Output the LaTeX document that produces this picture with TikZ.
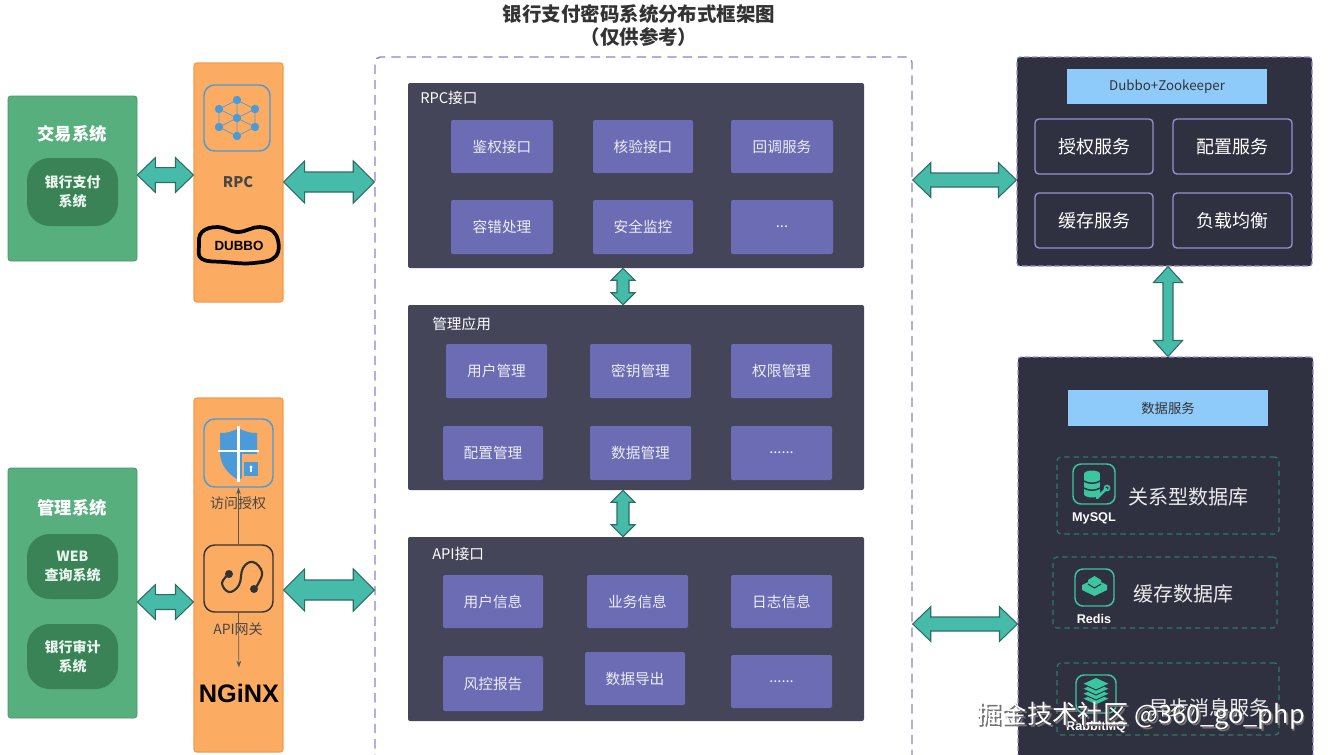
\documentclass[tikz,border=0pt]{standalone}
\usepackage{fontspec}
\setmainfont{Noto Sans CJK SC}
\newfontfamily\latb{Liberation Sans}
\usetikzlibrary{calc,arrows.meta}
\definecolor{grn}{HTML}{56AF7D}
\definecolor{grnd}{HTML}{3A8356}
\definecolor{org}{HTML}{FCAC62}
\definecolor{orgd}{HTML}{F39C4C}
\definecolor{pnl}{HTML}{45455A}
\definecolor{cellc}{HTML}{6B6CB4}
\definecolor{rpnl}{HTML}{2F3040}
\definecolor{lav}{HTML}{9A90D2}
\definecolor{lavd}{HTML}{8C84CC}
\definecolor{hdr}{HTML}{8FCBFA}
\definecolor{arrf}{HTML}{46BBAA}
\definecolor{arro}{HTML}{2E6E62}
\definecolor{tealc}{HTML}{3CC6A0}
\definecolor{tealdash}{HTML}{2E7A68}
\definecolor{ttl}{HTML}{333333}
\definecolor{iconb}{HTML}{4A9BD8}
\def\u{0.75pt}
\newcommand\rbox[7][]{\node[#1, minimum width={(#5-#3)*\u}, minimum height={(#6-#4)*\u}] (#2) at ({(#3+#5)/2},{(#4+#6)/2}) {#7};}
% horizontal double arrow: #1 left point, #2 right point, #3 shaft half, #4 head half, #5 head length
\newcommand\harr[5]{\draw[dar] let \p1=(#1), \p2=(#2) in
 (\x1,\y1) -- (\x1+#5,\y1+#4) -- (\x1+#5,\y1+#3) -- (\x2-#5,\y1+#3) -- (\x2-#5,\y1+#4) -- (\x2,\y1)
 -- (\x2-#5,\y1-#4) -- (\x2-#5,\y1-#3) -- (\x1+#5,\y1-#3) -- (\x1+#5,\y1-#4) -- cycle;}
% vertical double arrow: #1 top point, #2 bottom point
\newcommand\varr[5]{\draw[dar] let \p1=(#1), \p2=(#2) in
 (\x1,\y1) -- (\x1+#4,\y1-#5) -- (\x1+#3,\y1-#5) -- (\x1+#3,\y2+#5) -- (\x1+#4,\y2+#5) -- (\x1,\y2)
 -- (\x1-#4,\y2+#5) -- (\x1-#3,\y2+#5) -- (\x1-#3,\y1-#5) -- (\x1-#4,\y1-#5) -- cycle;}
\tikzset{
 dar/.style={fill=arrf, draw=arro, line width=0.8pt, line join=miter},
 gbox/.style={fill=grn, draw=grn!85!black, line width=0.5pt, rounded corners=2pt, inner sep=0pt},
 gtitle/.style={text=white, font=\bfseries\fontsize{13}{15}\selectfont, inner sep=0pt},
 pill/.style={fill=grnd, rounded corners=17pt, inner sep=0pt, align=center, text=white!88!grn, font=\bfseries\fontsize{10.5}{14.5}\selectfont},
 obox/.style={fill=org, draw=orgd, line width=0.8pt, rounded corners=2pt, inner sep=0pt},
 icbox/.style={draw=iconb, line width=1.1pt, rounded corners=8pt, inner sep=0pt},
 gwbox/.style={draw=ttl, line width=1.1pt, rounded corners=8pt, inner sep=0pt},
 olabel/.style={text=ttl!90, font=\fontsize{10.5}{12}\selectfont, inner sep=0pt},
 outerbox/.style={draw=lavd, dashed, dash pattern=on 7pt off 4.5pt, line width=1.1pt, rounded corners=4pt, inner sep=0pt},
 panel/.style={fill=pnl, rounded corners=1.5pt, inner sep=0pt},
 ptitle/.style={text=white, font=\fontsize{11}{13}\selectfont, inner sep=0pt, anchor=west},
 cell/.style={fill=cellc, rounded corners=1.5pt, inner sep=0pt, text=white!88!cellc, font=\fontsize{11}{13}\selectfont},
 rpanel/.style={fill=rpnl, draw=lav, dashed, dash pattern=on 4pt off 2pt, line width=0.8pt, rounded corners=2pt, inner sep=0pt},
 hdrbox/.style={fill=hdr, inner sep=0pt, text=ttl, font=\fontsize{10}{12}\selectfont},
 rcell/.style={draw=lav, line width=1pt, rounded corners=3pt, inner sep=0pt, text=white, font=\fontsize{13.5}{15}\selectfont},
 subbox/.style={draw=tealdash, dashed, dash pattern=on 4pt off 3pt, line width=0.9pt, rounded corners=3pt, inner sep=0pt},
 dbicon/.style={draw=tealc, line width=1.1pt, rounded corners=6pt, inner sep=0pt},
 dblabel/.style={text=white, font=\latb\bfseries\fontsize{9.5}{11}\selectfont, inner sep=0pt},
 dbtext/.style={text=white!92!black, font=\fontsize{15}{17}\selectfont, inner sep=0pt, anchor=west},
 ttext/.style={text=ttl, font=\bfseries\fontsize{14.6}{16}\selectfont, inner sep=0pt},
 wmark/.style={font=\fontsize{19}{21}\selectfont, inner sep=0pt, anchor=east},
}
\begin{document}
\begin{tikzpicture}[x=0.75pt,y=-0.75pt]
\useasboundingbox (0,0) rectangle (1328,754);
\fill[white] (0,0) rectangle (1328,754);
% title
\node[ttext] (title) at (639,14) {银行支付密码系统分布式框架图};
\node[ttext] (title2) at (639,37) {（仅供参考）};
% outer dashed box
\rbox[outerbox]{outer}{375}{57}{912}{790}{}
% left green boxes
\rbox[gbox]{g1}{8}{96}{137}{261}{}
\node[gtitle] (g1t) at (72,134) {交易系统};
\rbox[pill]{g1p}{27}{158}{118}{226}{银行支付\\系统}
\rbox[gbox]{g2}{8}{468}{137}{718}{}
\node[gtitle] (g2t) at (72,508) {管理系统};
\rbox[pill]{g2a}{27}{534}{118}{599}{WEB\\查询系统}
\rbox[pill]{g2b}{27}{624}{118}{689}{银行审计\\系统}
% orange RPC column
\rbox[obox]{rpc}{194}{63}{283}{302}{}
\rbox[icbox]{rpci}{204}{85}{270}{151}{}
\begin{scope}[iconb]
 \draw[line width=0.5pt] (237,100) -- (219,109) -- (219,127) -- (237,136) -- (255,127) -- (255,109) -- cycle;
 \draw[line width=0.5pt] (237,118) -- (237,100) (237,118) -- (219,127) (237,118) -- (255,127)
   (237,118) -- (219,109) (237,118) -- (255,109) (237,118) -- (237,136);
 \foreach \p in {(237,100),(219,109),(255,109),(219,127),(255,127),(237,136),(237,118)} \fill \p circle (4.2);
\end{scope}
\node[olabel, font=\bfseries\fontsize{11}{13}\selectfont] (rpct) at (238,182) {RPC};
\draw[line width=2.8pt, black] plot[smooth cycle, tension=0.7] coordinates {(202,232) (218,227) (238,232) (260,227) (276,235) (276,256) (254,263) (224,262) (202,259) (199,246)};
\node[inner sep=0pt, font=\latb\bfseries\fontsize{10}{11}\selectfont] (dubbo) at (239,246) {DUBBO};
% orange API column
\rbox[obox]{api}{194}{398}{283}{752}{}
\rbox[icbox]{shi}{204}{419}{273}{487}{}
\fill[iconb] (220,433) .. controls (228,433) and (234,431) .. (238.5,428) .. controls (243,431) and (249,433) .. (257,433) -- (257,452) .. controls (257,465) and (249,474) .. (238.5,480) .. controls (228,474) and (220,465) .. (220,452) -- cycle;
\draw[white, line width=2.2pt] (238.5,426) -- (238.5,482) (218,451) -- (259,451);
\fill[org] (242,454) rectangle (262,480);
\draw[iconb, line width=1.3pt] (246.5,462) arc[start angle=180, end angle=0, x radius=4.5, y radius=5];
\fill[iconb] (244,462) rectangle (258,476);
\fill[white] (251,467) circle (1.6);
\draw[white, line width=0.9pt] (251,467) -- (251,472);
\node[olabel] (sht) at (238,503) {访问授权};
\rbox[gwbox]{gw}{204}{545}{273}{612}{}
\draw[ttl, line width=1.6pt] plot[smooth, tension=0.7] coordinates {(229,574) (222,583) (229,592) (239,585) (243,568) (253,562) (262,572) (258,584) (254,589)};
\fill[ttl] (229,574) circle (4);
\fill[ttl] (254,589) circle (4);
\node[olabel] (gwt) at (238,629) {API网关};
\node[inner sep=0pt, font=\latb\bfseries\fontsize{19}{21}\selectfont] (nginx) at (239,693) {NGiNX};
\draw[gray!70!black, line width=0.5pt, -{Stealth[length=5pt,width=3.5pt]}] (gw.north) -- (shi.south);
\draw[gray!70!black, line width=0.5pt, -{Stealth[length=5pt,width=3.5pt]}, shorten >=12pt] (gw.south) -- (nginx.north);
% central panels
\rbox[panel]{rpcp}{408}{83}{864}{268}{}
\node[ptitle] (rpcpt) at (420,98) {RPC接口};
\rbox[cell]{c11}{451}{120}{553}{173}{鉴权接口}
\rbox[cell]{c12}{593}{120}{693}{173}{核验接口}
\rbox[cell]{c13}{731}{120}{833}{173}{回调服务}
\rbox[cell]{c21}{451}{200}{553}{254}{容错处理}
\rbox[cell]{c22}{593}{200}{693}{254}{安全监控}
\rbox[cell]{c23}{731}{200}{833}{254}{...}
\rbox[panel]{mgp}{408}{305}{864}{490}{}
\node[ptitle] (mgpt) at (432,324) {管理应用};
\rbox[cell]{m11}{446}{344}{547}{398}{用户管理}
\rbox[cell]{m12}{590}{344}{691}{398}{密钥管理}
\rbox[cell]{m13}{731}{344}{832}{398}{权限管理}
\rbox[cell]{m21}{443}{426}{543}{480}{配置管理}
\rbox[cell]{m22}{590}{426}{691}{480}{数据管理}
\rbox[cell]{m23}{731}{426}{832}{480}{......}
\rbox[panel]{apip}{408}{537}{864}{721}{}
\node[ptitle] (apipt) at (432,554) {API接口};
\rbox[cell]{a11}{443}{575}{543}{628}{用户信息}
\rbox[cell]{a12}{587}{575}{688}{628}{业务信息}
\rbox[cell]{a13}{731}{575}{832}{628}{日志信息}
\rbox[cell]{a21}{443}{656}{543}{711}{风控报告}
\rbox[cell]{a22}{585}{652}{685}{705}{数据导出}
\rbox[cell]{a23}{731}{655}{832}{708}{......}
% right panels
\rbox[rpanel]{dz}{1017}{57}{1312}{266}{}
\rbox[hdrbox]{dzh}{1067}{69}{1267}{104}{Dubbo+Zookeeper}
\rbox[rcell]{r11}{1035}{119}{1153}{174}{授权服务}
\rbox[rcell]{r12}{1173}{119}{1292}{174}{配置服务}
\rbox[rcell]{r21}{1035}{193}{1153}{248}{缓存服务}
\rbox[rcell]{r22}{1173}{193}{1292}{248}{负载均衡}
\rbox[rpanel]{ds}{1018}{357}{1313}{790}{}
\rbox[hdrbox]{dsh}{1068}{390}{1268}{426}{数据服务}
\rbox[subbox]{s1}{1057}{457}{1279}{534}{}
\rbox[subbox]{s2}{1053}{557}{1277}{628}{}
\rbox[subbox]{s3}{1057}{663}{1279}{735}{}
% MySQL icon
\rbox[dbicon]{i1}{1073}{464}{1115}{504}{}
\fill[tealc] (1084,474) rectangle (1100,494);
\fill[tealc] (1092,474) ellipse (8 and 3.5);
\fill[tealc] (1092,494) ellipse (8 and 3.5);
\draw[rpnl, line width=1.1pt] (1084,481) .. controls (1088,484) and (1096,484) .. (1100,481)
  (1084,488) .. controls (1088,491) and (1096,491) .. (1100,488);
\draw[tealc, line width=2pt, line cap=round] (1097,498) -- (1106,489);
\draw[tealc, line width=1.2pt] (1107,488) circle (2.5);
\node[dblabel] (l1) at (1094,518) {MySQL};
\node[dbtext] (t1) at (1128,497) {关系型数据库};
% Redis icon
\rbox[dbicon]{i2}{1075}{569}{1114}{606}{}
\fill[tealc] (1082,585) -- (1094.5,579) -- (1107,585) -- (1107,590) -- (1094.5,596) -- (1082,590) -- cycle;
\fill[tealc] (1088,580) -- (1094.5,576) -- (1101,580) -- (1101,584) -- (1094.5,588) -- (1088,584) -- cycle;
\draw[rpnl, line width=0.8pt] (1088,584) -- (1094.5,588) -- (1101,584);
\node[dblabel] (l2) at (1094,619) {Redis};
\node[dbtext] (t2) at (1133,594) {缓存数据库};
% RabbitMQ icon
\rbox[dbicon]{i3}{1076}{675}{1116}{713}{}
\foreach \k in {0,1,2,3} {
 \fill[tealc] (1083,{699-5*\k}) -- (1096,{693-5*\k}) -- (1109,{699-5*\k}) -- (1096,{705-5*\k}) -- cycle;
 \draw[rpnl, line width=0.7pt] (1083,{699-5*\k}) -- (1096,{705-5*\k}) -- (1109,{699-5*\k});
}
\node[dblabel] (l3) at (1096,727) {RabbitMQ};
\node[dbtext] (t3) at (1149,708) {异步消息服务};
% arrows
\coordinate (ay1) at (0,175);
\coordinate (ay2) at (0,182);
\coordinate (ay3) at (0,602);
\coordinate (ay5) at (0,590);
\coordinate (ay6) at (0,180);
\coordinate (ay4) at (0,624);
\coordinate (ax1) at (623,0);
\coordinate (ax2) at (1168,0);
\harr{g1.east |- ay1}{rpc.west |- ay1}{5.6pt}{13pt}{13.5pt}
\harr{rpc.east |- ay2}{outer.west |- ay2}{7.5pt}{15.75pt}{15.75pt}
\harr{g2.east |- ay3}{api.west |- ay3}{5.6pt}{13pt}{13.5pt}
\harr{api.east |- ay5}{outer.west |- ay5}{7.5pt}{15.75pt}{15.75pt}
\harr{outer.east |- ay6}{dz.west |- ay6}{5.25pt}{13pt}{13.5pt}
\harr{outer.east |- ay4}{ds.west |- ay4}{5.25pt}{13pt}{13.5pt}
\varr{rpcp.south -| ax1}{mgp.north -| ax1}{4.5pt}{9pt}{9pt}
\varr{mgp.south -| ax1}{apip.north -| ax1}{4.5pt}{9pt}{9pt}
\varr{dz.south -| ax2}{ds.north -| ax2}{3.75pt}{10.9pt}{12pt}
% watermark
\node[wmark, text=black!55] (wms) at (1306.8,717.8) {掘金技术社区 @360\_go\_php};
\node[wmark, text=white] (wm) at (1305,716) {掘金技术社区 @360\_go\_php};
\end{tikzpicture}
\end{document}
